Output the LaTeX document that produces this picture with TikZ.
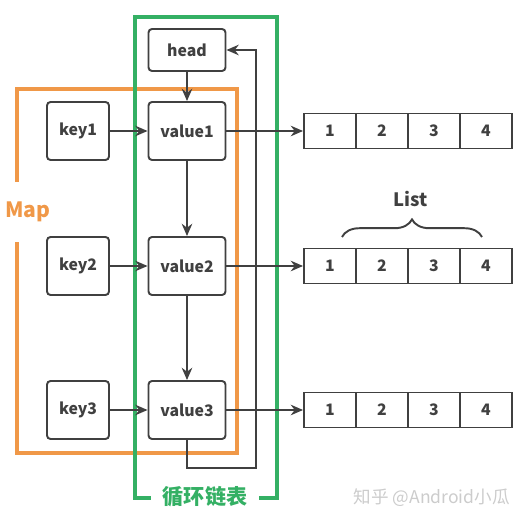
\documentclass[tikz,border=0pt]{standalone}
\usepackage{fontspec}
\setmainfont{Noto Sans CJK SC}
\usetikzlibrary{arrows.meta,decorations.pathreplacing}
\definecolor{mapcol}{RGB}{240,152,72}
\definecolor{loopcol}{RGB}{52,176,100}
\definecolor{ink}{RGB}{64,64,64}

\begin{document}
\begin{tikzpicture}[x=0.02cm,y=-0.02cm,
  box/.style={draw=ink,line width=1.1pt,rounded corners=2pt,fill=white,text=ink,
    font=\bfseries\fontsize{9}{10}\selectfont,minimum height=1.16cm},
  cell/.style={draw=ink,line width=1.1pt,text=ink,
    font=\bfseries\fontsize{9}{10}\selectfont,minimum width=1.04cm,minimum height=0.7cm},
  arr/.style={draw=ink,line width=1.1pt,-{Stealth[length=7pt,width=6pt]}}]
\useasboundingbox (0,0) rectangle (528,523);
%MAP
\draw[mapcol,line width=1.8pt] (17,89) rectangle (237,453);
\node[fill=white,text=mapcol,font=\bfseries\fontsize{12}{14}\selectfont,
  inner xsep=1pt,minimum height=1.2cm] (map) at (28,212) {Map};
%LOOP
\draw[loopcol,line width=1.8pt] (135,17) rectangle (277,498);
\node[fill=white,text=loopcol,font=\bfseries\fontsize{12}{14}\selectfont,
  minimum width=2.18cm] (loop) at (205,497) {循环链表};
%NODES
\node[box,minimum width=1.54cm,minimum height=0.84cm] (head) at (187,50) {head};
\foreach \i/\y in {1/131,2/266,3/410}{
  \node[box,minimum width=1.24cm] (key\i) at (78,\y) {key\i};
  \node[box,minimum width=1.54cm] (value\i) at (187,\y) {value\i};
  \foreach \j in {1,...,4}
    \node[cell] (c\i\j) at (278+52*\j,\y) {\j};
  \draw[arr] (key\i) -- (value\i);
  \draw[arr] (value\i) -- (c\i1);
}
\draw[arr] (head) -- (value1);
\draw[arr] (value1) -- (value2);
\draw[arr] (value2) -- (value3);
\coordinate (back) at (256,468);
\draw[arr] (value3.south) |- (back) |- (head.east);
%LIST
\draw[ink,line width=1.1pt,decorate,decoration={brace,amplitude=10pt}] (342,237) -- (482,237);
\node[text=ink,font=\bfseries\fontsize{10.5}{12}\selectfont] (list) at (411,199) {List};
\node[text=gray!40,font=\fontsize{10}{12}\selectfont,anchor=east] (mark) at (516,498) {知乎 @Android小瓜};
\end{tikzpicture}
\end{document}
